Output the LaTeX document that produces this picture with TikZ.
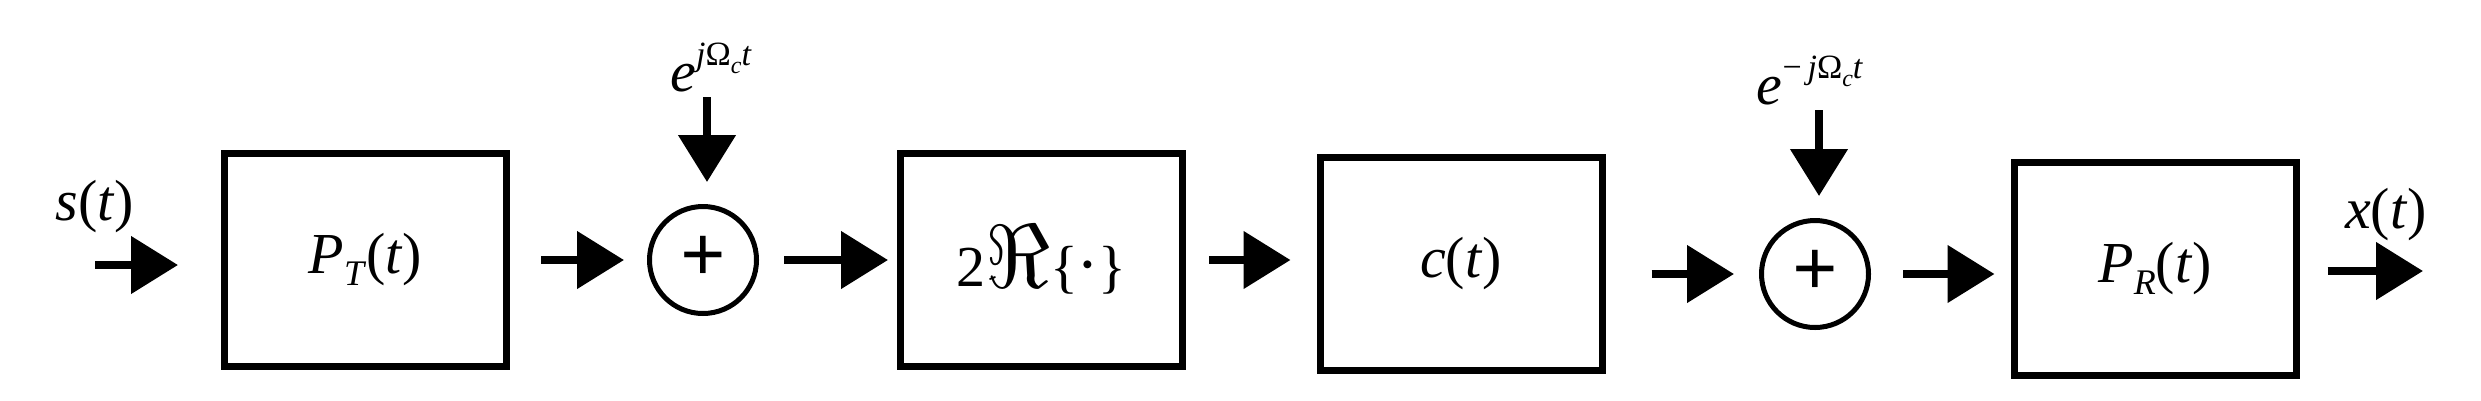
\documentclass[tikz,border=0pt]{standalone}
\usepackage{graphicx}
\usepackage{fontspec}
\setmainfont{Liberation Serif}
\usetikzlibrary{arrows.meta}
\begin{document}
\begin{tikzpicture}[x=1pt,y=-1pt,
  blk/.style={draw,line width=7pt,minimum width=282pt,minimum height=213pt,inner sep=0pt,font=\fontsize{58}{60}\selectfont},
  sum/.style={draw,circle,line width=5pt,minimum size=107pt,inner sep=0pt,font=\fontsize{80}{80}\selectfont\bfseries},
  sig/.style={line width=8pt,-{Triangle[length=47pt,width=56pt]}},
  lbl/.style={font=\fontsize{58}{60}\selectfont,inner sep=0pt}]
\useasboundingbox (0,0) rectangle (2481,400);
\node[blk] (b1) at (365.5,260) {\textit{P}\raisebox{-12pt}{\fontsize{36}{36}\selectfont\textit{T}}(\textit{t})};
\node[sum] (c1) at (703,260) {\raisebox{2pt}{+}};
\node[blk] (b2) at (1041.5,260) {2\raisebox{-1pt}{\scalebox{3.6}{$\Re$}}\{\raisebox{3pt}{\scalebox{3}{$\cdot$}}\}};
\node[blk] (b3) at (1461,264) {\textit{c}(\textit{t})};
\node[sum] (c2) at (1815,274) {\raisebox{2pt}{+}};
\node[blk] (b4) at (2155,269) {\textit{P}\raisebox{-12pt}{\fontsize{36}{36}\selectfont\textit{R}}(\textit{t})};
\coordinate (in) at (95,265);
\coordinate (out) at (2423,271);
\coordinate (e1) at (707,97);
\coordinate (e2) at (1819,110);
\node[lbl] (ls) at (95,207) {\textit{s}(\textit{t})};
\node[lbl] (lx) at (2386,215) {\textit{x}(\textit{t})};
\node[lbl,anchor=south] (le1) at (711,92) {\textit{e}\raisebox{26pt}{\fontsize{34}{34}\selectfont\textit{j}Ω\raisebox{-8pt}{\fontsize{24}{24}\selectfont\textit{c}}\textit{t}}};
\node[lbl,anchor=south] (le2) at (1810,105) {\textit{e}\raisebox{26pt}{\fontsize{34}{34}\selectfont −\,\textit{j}Ω\raisebox{-8pt}{\fontsize{24}{24}\selectfont\textit{c}}\textit{t}}};
\draw[sig,shorten >=43pt] (in) -- (in -| b1.west);
\draw[sig,shorten <=31pt,shorten >=23pt] (b1.east |- c1) -- (c1.west);
\draw[sig,shorten <=25pt,shorten >=9pt] (c1.east) -- (b2.west |- c1);
\draw[sig,shorten <=23pt,shorten >=26pt] (b2.east) -- (b3.west |- b2.east);
\draw[sig,shorten <=46pt,shorten >=25pt] (b3.east |- c2) -- (c2.west);
\draw[sig,shorten <=32pt,shorten >=16pt] (c2.east) -- (b4.west |- c2);
\draw[sig,shorten <=28pt] (b4.east |- out) -- (out);
\draw[sig,shorten >=22pt] (e1) -- (e1 |- c1.north);
\draw[sig,shorten >=22pt] (e2) -- (e2 |- c2.north);
\end{tikzpicture}
\end{document}
